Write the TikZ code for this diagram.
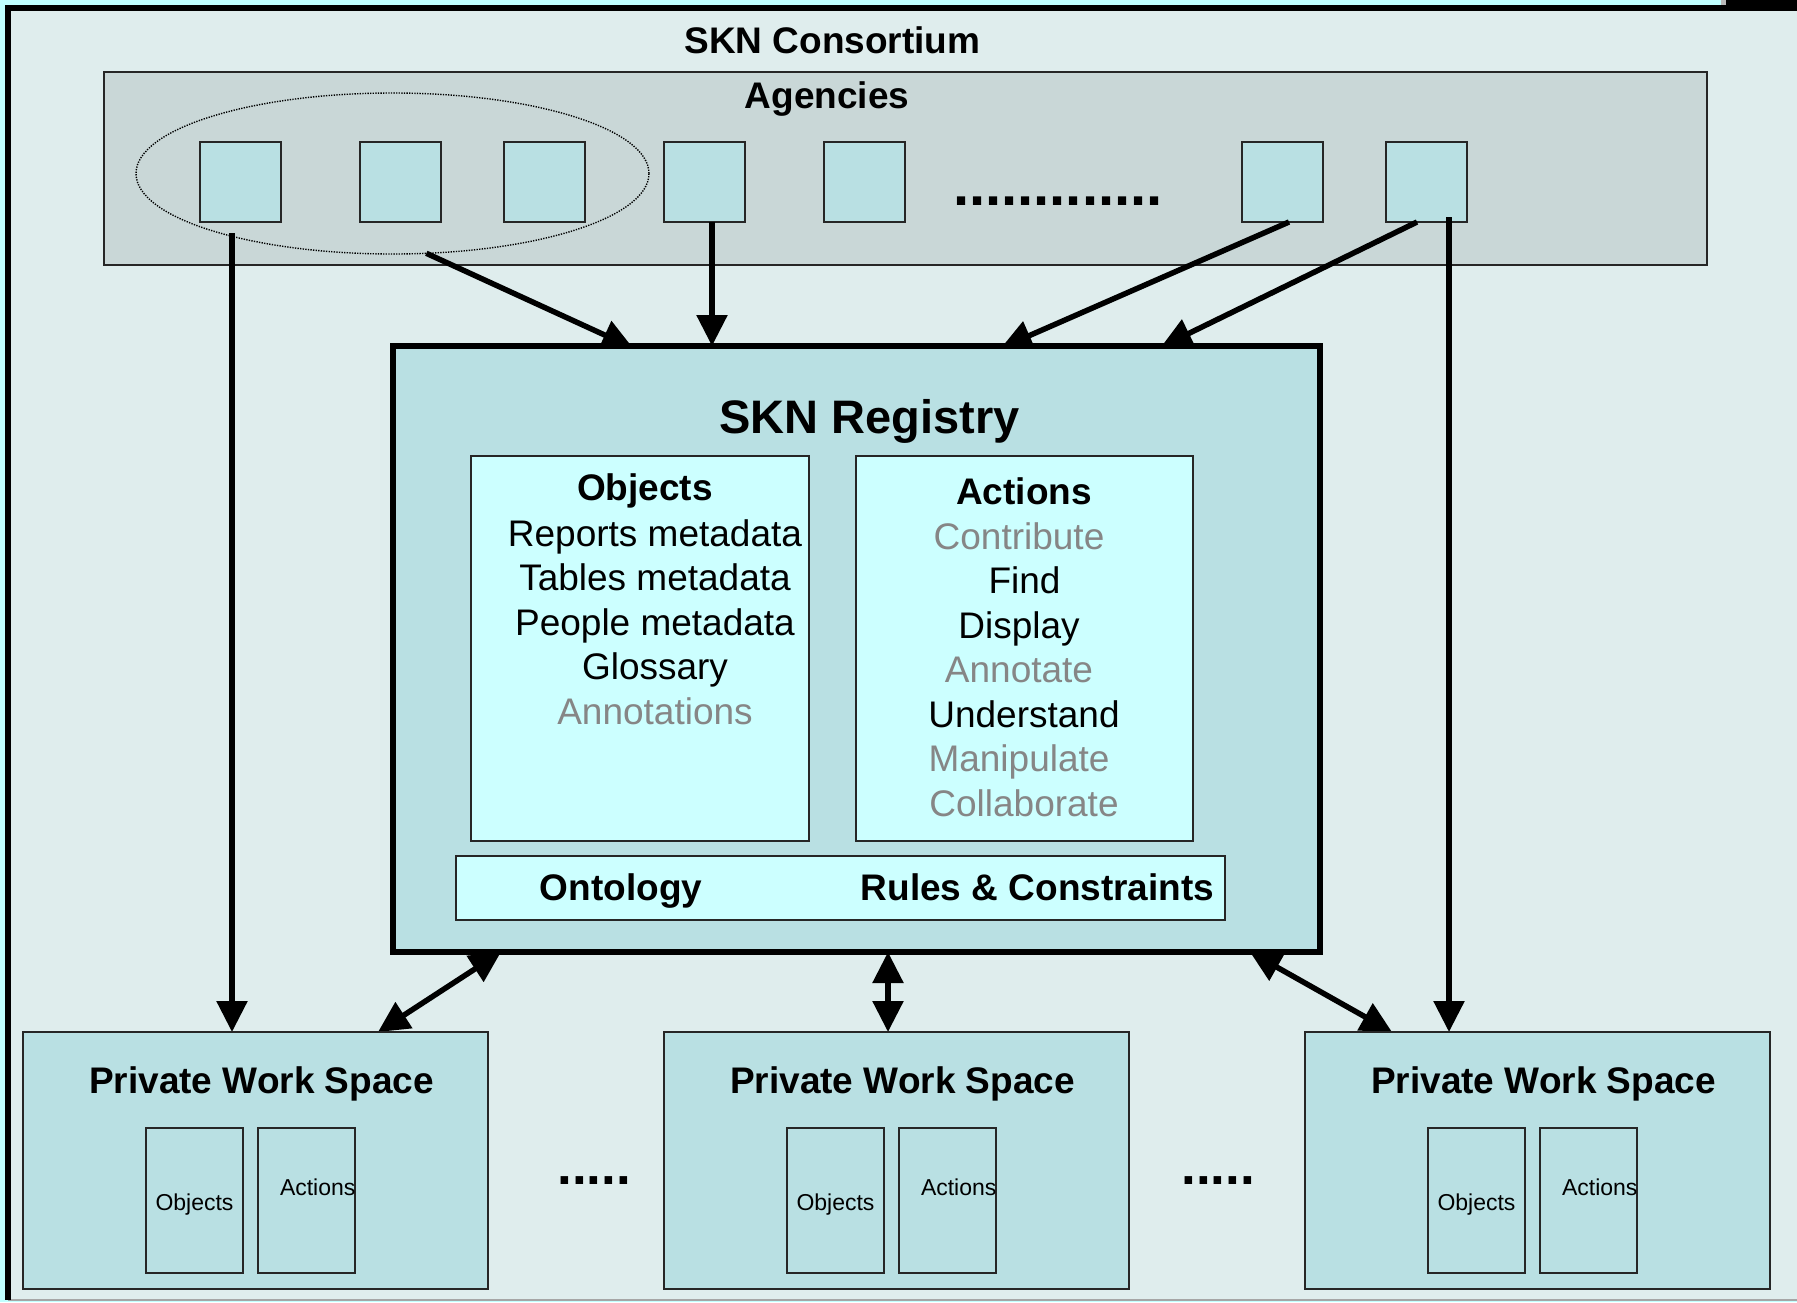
\documentclass[tikz,border=0pt]{standalone}
\usepackage{fontspec}
\setmainfont{Liberation Sans}
\usetikzlibrary{arrows.meta,calc,shapes.geometric}
\newcommand\fsz[1]{\fontsize{#1}{#1}\selectfont}
\definecolor{pagecyan}{RGB}{192,255,255}
\definecolor{outerfill}{RGB}{223,237,237}
\definecolor{agfill}{RGB}{201,215,215}
\definecolor{boxfill}{RGB}{185,224,227}
\definecolor{lightcyan}{RGB}{204,255,255}
\definecolor{txtgray}{RGB}{134,134,134}
\pgfdeclarelayer{bg}
\pgfdeclarelayer{mid}
\pgfsetlayers{bg,mid,main}
\begin{document}
\begin{tikzpicture}[x=1pt,y=-1pt,
  every node/.style={inner sep=0pt,outer sep=0pt},
  ttl/.style={anchor=base,font=\bfseries\fsz{37}},
  txt/.style={anchor=base,font=\fsz{37}},
  gtxt/.style={anchor=base,font=\fsz{37},text=txtgray},
  small/.style={anchor=base,font=\fsz{23}},
  sqbox/.style={draw=black!85,line width=1.8pt,fill=boxfill,minimum width=81pt,minimum height=80pt},
  litebox/.style={draw=black!85,line width=1.8pt,fill=lightcyan},
  pwsbox/.style={draw=black!85,line width=1.8pt,fill=boxfill,minimum width=465pt,minimum height=257pt},
  innerbox/.style={draw=black!85,line width=1.8pt,fill=boxfill,minimum width=97pt,minimum height=145pt},
  arr/.style={line width=5.5pt,-{Triangle[length=31pt,width=30pt]}},
  darr/.style={line width=5.5pt,{Triangle[length=31pt,width=30pt]}-{Triangle[length=31pt,width=30pt]}}]
\useasboundingbox (0,0) rectangle (1797,1302);
\begin{pgfonlayer}{bg}
  \fill[pagecyan] (0,0) rectangle (1797,1302);
  \fill[outerfill] (8,8) rectangle (1797,1300);
  \draw[gray!70,line width=1.5pt] (8,1300) -- (1797,1300);
  \fill[gray!55] (1721,0) rectangle (1797,7);
  \fill[black] (1726,0) rectangle (1797,5.5);
  \draw[line width=6pt] (1797,8) -- (8,8) -- (8,1300);
  \node[ttl] (cons) at (832.5,53) {SKN Consortium};
  \node[draw=black!85,line width=1.8pt,fill=agfill,minimum width=1603pt,minimum height=193pt] (agency) at (905.5,168.5) {};
  \node[ttl] (agtitle) at (827,108) {Agencies};
  \foreach \n/\x in {1/240.5,2/400.5,3/544.5,4/704.5,5/864.5,6/1282.5,7/1426.5}
    \node[sqbox] (sq\n) at (\x,182) {};
  \node[draw=black,dash pattern=on 1.3pt off 1.3pt,line width=1.4pt,ellipse,minimum width=513pt,minimum height=161pt] (grp) at (392.5,173.5) {};
  \node[anchor=base west,font=\bfseries\fsz{58}] (agdots) at (953,205.5) {.............};
\end{pgfonlayer}

% registry
\node[draw=black,line width=5.5pt,fill=boxfill,minimum width=927pt,minimum height=606pt] (reg) at (856.5,649) {};
\node[anchor=base,font=\bfseries\fsz{47}] (regtitle) at (869.5,433) {SKN Registry};
\node[litebox,minimum width=338pt,minimum height=385pt] (objbox) at (640,648.5) {};
\node[litebox,minimum width=337pt,minimum height=385pt] (actbox) at (1024.5,648.5) {};
\node[litebox,minimum width=769pt,minimum height=64pt] (ontbox) at (840.5,888) {};

\node[ttl] (objt) at (645,500) {Objects};
\node[txt] (o1) at (655,546) {Reports metadata};
\node[txt] (o2) at (655,590.5) {Tables metadata};
\node[txt] (o3) at (655,635) {People metadata};
\node[txt] (o4) at (655,679.5) {Glossary};
\node[gtxt] (o5) at (655,724) {Annotations};

\node[ttl] (actt) at (1024,504) {Actions};
\node[gtxt] (c1) at (1019,549) {Contribute};
\node[txt] (c2) at (1024.5,593.5) {Find};
\node[txt] (c3) at (1019,638) {Display};
\node[gtxt] (c4) at (1019,682.5) {Annotate};
\node[txt] (c5) at (1024,727) {Understand};
\node[gtxt] (c6) at (1019,771.5) {Manipulate};
\node[gtxt] (c7) at (1024,816) {Collaborate};

\node[ttl] (ont) at (621,900) {Ontology};
\node[ttl] (rules) at (1037.5,900) {Rules \& Constraints};

% private work spaces
\foreach \i/\l in {1/23,2/664,3/1305}{
  \node[pwsbox] (pws\i) at (\l+232.5,1160.5) {};
  \node[ttl] (pwst\i) at (\l+238.5,1093) {Private Work Space};
  \node[innerbox] (pwo\i) at (\l+171.5,1200.5) {};
  \node[innerbox] (pwa\i) at (\l+283.5,1200.5) {};
  \node[small] (pwot\i) at (\l+171.5,1210) {Objects};
  \node[small,anchor=base west] (pwat\i) at (\l+257,1195) {Actions};
}
\node[anchor=base west,font=\bfseries\fsz{53}] (dots1) at (557.3,1184) {.....};
\node[anchor=base west,font=\bfseries\fsz{53}] (dots2) at (1181.3,1184) {.....};

% connector end points
\coordinate (a1s) at ($(sq1.south)+(-8.5,11)$);
\coordinate (a3s) at ($(sq4.south)+(7.5,0)$);
\coordinate (a6s) at ($(sq7.south)+(22.5,-5)$);

\begin{pgfonlayer}{mid}
  \draw[arr] (a1s) -- (a1s |- pws1.north);
  \draw[arr] (grp.-67) -- ($(reg.north west)+(240,2)$);
  \draw[arr] (a3s) -- (a3s |- reg.north);
  \draw[arr] ($(sq6.south)+(6.5,0)$) -- ($(reg.north west)+(608,2)$);
  \draw[arr] ($(sq7.south)+(-9.5,0)$) -- ($(reg.north west)+(768,1)$);
  \draw[arr] (a6s) -- (a6s |- pws3.north);
  \draw[darr] ($(reg.south west)+(108,0)$) -- ($(pws1.north west)+(355,0)$);
  \draw[darr] ($(reg.south west)+(495,0)$) -- ($(pws2.north west)+(224,0)$);
  \draw[darr] ($(reg.south west)+(857,0)$) -- ($(pws3.north west)+(87,0)$);
\end{pgfonlayer}
\end{tikzpicture}
\end{document}
